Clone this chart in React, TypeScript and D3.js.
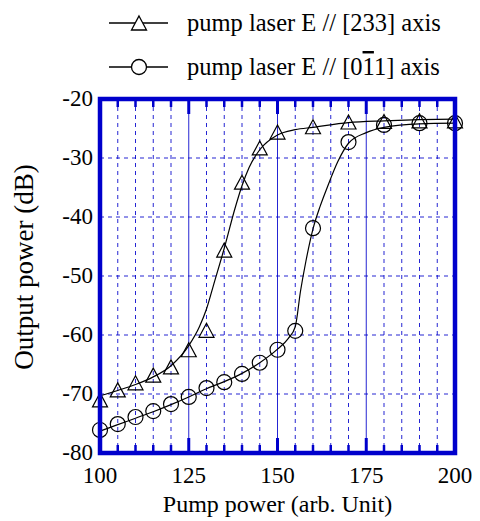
import * as d3 from 'd3';

// measured points
const TRI_X = [100, 105, 110, 115, 120, 125, 130, 135, 140, 145, 150, 160, 170, 180, 190, 200];
const TRI_Y = [-71, -69.3, -68.1, -66.8, -65.4, -62.5, -59.2, -45.6, -34.1, -28.3, -25.6, -24.7, -23.9, -23.8, -23.7, -23.7];
const CIR_X = [100, 105, 110, 115, 120, 125, 130, 135, 140, 145, 150, 155, 160, 170, 180, 190, 200];
const CIR_Y = [-76.1, -75.1, -73.9, -72.9, -71.7, -70.5, -69.0, -68.0, -66.6, -64.7, -62.5, -59.3, -41.9, -27.3, -24.4, -24.1, -24.1];

// fitted curves
const TRI_FIT_X = [100, 105, 110, 115, 120, 125, 128, 130, 132, 135, 138, 140, 142, 145, 150, 155, 160, 170, 180, 190, 200];
const TRI_FIT_Y = [-70.3, -69.4, -68.4, -67.1, -65.2, -61.8, -58.6, -55.6, -51.5, -45.3, -38.6, -34.7, -31.6, -28.6, -26.1, -25.2, -24.8, -24.0, -23.7, -23.5, -23.4];
const CIR_FIT_X = [100, 105, 110, 115, 120, 125, 130, 135, 140, 145, 150, 153, 155, 156.5, 158, 160, 162, 164, 167, 170, 175, 180, 190, 200];
const CIR_FIT_Y = [-76.3, -75.2, -74.1, -73.0, -71.8, -70.5, -69.1, -67.9, -66.5, -64.7, -62.4, -60.6, -58.6, -52.5, -47.5, -42.0, -38.2, -35.0, -30.6, -27.5, -25.7, -24.8, -24.2, -24.1];

const X_TICKS = [100, 125, 150, 175, 200];
const X_MINOR = d3.range(105, 200, 5).filter((v) => v % 25 !== 0);
const Y_TICKS = [-20, -30, -40, -50, -60, -70, -80];

const BLUE = '#0000cc';
const FONT = 'serif';

const margin = { left: 100, right: 25, top: 99, bottom: 68 };
const W = 480;
const H = 521;

export default function App() {
    const x = d3.scaleLinear().domain([100, 200]).range([margin.left, W - margin.right]);
    const y = d3.scaleLinear().domain([-80, -20]).range([H - margin.bottom, margin.top]);
    const line = d3
        .line<[number, number]>()
        .x((d) => x(d[0]))
        .y((d) => y(d[1]))
        .curve(d3.curveMonotoneX);

    const triFit = line(TRI_FIT_X.map((v, i) => [v, TRI_FIT_Y[i]]));
    const cirFit = line(CIR_FIT_X.map((v, i) => [v, CIR_FIT_Y[i]]));
    const triPath = 'M0,-7L7.5,7L-7.5,7Z';

    const x0 = x(100);
    const x1 = x(200);
    const yTop = y(-20);
    const yBot = y(-80);

    return (
        <svg width={W} height={H} style={{ position: 'absolute', left: 0, top: 0, background: '#fff', fontFamily: FONT }}>
            {/* legend */}
            <g style={{ fontFamily: FONT, fontSize: 24.5 }}>
                <line x1={109} x2={168} y1={23} y2={23} stroke="#000" strokeWidth={1.3} />
                <path d={triPath} transform="translate(139,23)" fill="#fff" stroke="#000" strokeWidth={1.3} />
                <text x={187} y={31}>pump laser E // [233] axis</text>
                <line x1={109} x2={168} y1={67} y2={67} stroke="#000" strokeWidth={1.3} />
                <circle cx={139} cy={67} r={7.5} fill="#fff" stroke="#000" strokeWidth={1.3} />
                <text x={187} y={75}>
                    pump laser E // [0<tspan style={{ textDecoration: 'overline' }}>1</tspan>1] axis
                </text>
            </g>

            {/* grid */}
            {X_MINOR.map((v) => (
                <line key={'gx' + v} x1={x(v)} x2={x(v)} y1={yTop} y2={yBot} stroke={BLUE} strokeWidth={1} strokeDasharray="4,4" opacity={0.85} />
            ))}
            {X_TICKS.slice(1, -1).map((v) => (
                <line key={'gm' + v} x1={x(v)} x2={x(v)} y1={yTop} y2={yBot} stroke={BLUE} strokeWidth={1} opacity={0.85} />
            ))}
            {Y_TICKS.slice(1, -1).map((v) => (
                <line key={'gy' + v} x1={x0} x2={x1} y1={y(v)} y2={y(v)} stroke={BLUE} strokeWidth={1} strokeDasharray="4,4" opacity={0.85} />
            ))}

            {/* ticks */}
            {X_MINOR.map((v) => (
                <g key={'t' + v} stroke={BLUE} strokeWidth={2.5}>
                    <line x1={x(v)} x2={x(v)} y1={yTop} y2={yTop + 8} />
                    <line x1={x(v)} x2={x(v)} y1={yBot} y2={yBot - 8} />
                </g>
            ))}
            {X_TICKS.slice(1, -1).map((v) => (
                <g key={'T' + v} stroke={BLUE} strokeWidth={3}>
                    <line x1={x(v)} x2={x(v)} y1={yTop} y2={yTop + 15} />
                    <line x1={x(v)} x2={x(v)} y1={yBot} y2={yBot - 15} />
                </g>
            ))}

            {/* fitted curves */}
            <path d={triFit ?? ''} fill="none" stroke="#000" strokeWidth={1.2} />
            <path d={cirFit ?? ''} fill="none" stroke="#000" strokeWidth={1.2} />

            {/* markers */}
            {TRI_X.map((v, i) => (
                <path key={'tri' + i} d={triPath} transform={`translate(${x(v)},${y(TRI_Y[i])})`} fill="none" stroke="#000" strokeWidth={1.2} />
            ))}
            {CIR_X.map((v, i) => (
                <circle key={'c' + i} cx={x(v)} cy={y(CIR_Y[i])} r={7.5} fill="none" stroke="#000" strokeWidth={1.2} />
            ))}

            {/* frame */}
            <rect x={x0} y={yTop} width={x1 - x0} height={yBot - yTop} fill="none" stroke={BLUE} strokeWidth={4.5} />

            {/* tick labels */}
            <g style={{ fontFamily: FONT, fontSize: 23 }} fill="#000">
                {Y_TICKS.map((v) => (
                    <text key={'yl' + v} x={x0 - 7} y={y(v) + 7} textAnchor="end">
                        {v}
                    </text>
                ))}
                {X_TICKS.map((v) => (
                    <text key={'xl' + v} x={x(v)} y={yBot + 30} textAnchor="middle">
                        {v}
                    </text>
                ))}
            </g>
            <g style={{ fontFamily: FONT, fontSize: 24 }} fill="#000">
                <text x={(x0 + x1) / 2} y={yBot + 59} textAnchor="middle">
                    Pump power (arb. Unit)
                </text>
                <text transform={`translate(33,267) rotate(-90)`} textAnchor="middle" style={{ fontSize: 27 }}>
                    Output power (dB)
                </text>
            </g>
        </svg>
    );
}
